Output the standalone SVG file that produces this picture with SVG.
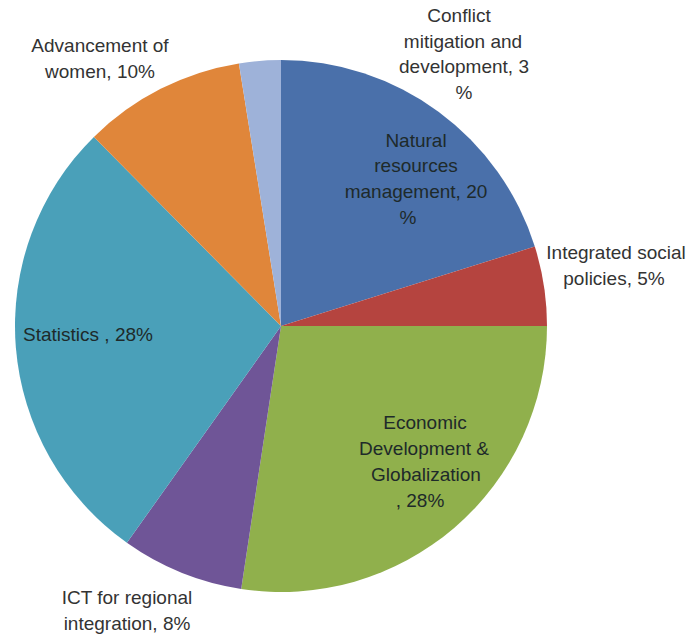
<svg xmlns="http://www.w3.org/2000/svg" width="695" height="641" viewBox="0 0 695 641">
<style>
.lbl{font-family:"Liberation Sans",Arial,sans-serif;font-size:19px;fill:#333;text-anchor:middle}
.in{fill:#1e2a2a}
</style>
<rect width="695" height="641" fill="#fff"/>
<g id="slices">
<g id="natural"><path d="M281,326 L281,60 A266,266 0 0 1 534.8,246.5 Z" fill="#4a70aa"/></g>
<g id="social"><path d="M281,326 L534.8,246.5 A266,266 0 0 1 547,326 Z" fill="#b5443f"/></g>
<g id="economic"><path d="M281,326 L547,326 A266,266 0 0 1 241.2,589 Z" fill="#90b04c"/></g>
<g id="ict"><path d="M281,326 L241.2,589 A266,266 0 0 1 126.9,542.8 Z" fill="#6f5597"/></g>
<g id="statistics"><path d="M281,326 L126.9,542.8 A266,266 0 0 1 93.9,136.9 Z" fill="#4aa0b9"/></g>
<g id="women"><path d="M281,326 L93.9,136.9 A266,266 0 0 1 238.9,63.4 Z" fill="#e0863a"/></g>
<g id="conflict"><path d="M281,326 L238.9,63.4 A266,266 0 0 1 281,60 Z" fill="#9eb2d9"/></g>
</g>
<g id="labels">
<text class="lbl" x="459" y="22">Conflict</text>
<text class="lbl" x="463" y="48">mitigation and</text>
<text class="lbl" x="464" y="73">development, 3</text>
<text class="lbl" x="464" y="99">%</text>
<text class="lbl" x="100" y="52">Advancement of</text>
<text class="lbl" x="100" y="78">women, 10%</text>
<text class="lbl in" x="416" y="147">Natural</text>
<text class="lbl in" x="416" y="172">resources</text>
<text class="lbl in" x="416" y="198">management, 20</text>
<text class="lbl in" x="408" y="224">%</text>
<text class="lbl" x="616" y="259">Integrated social</text>
<text class="lbl" x="614" y="285">policies, 5%</text>
<text class="lbl in" x="88" y="341">Statistics , 28%</text>
<text class="lbl in" x="425" y="429">Economic</text>
<text class="lbl in" x="424" y="455">Development &amp;</text>
<text class="lbl in" x="426" y="481">Globalization</text>
<text class="lbl in" x="420" y="507">, 28%</text>
<text class="lbl" x="127" y="604">ICT for regional</text>
<text class="lbl" x="127" y="630">integration, 8%</text>
</g>
</svg>
